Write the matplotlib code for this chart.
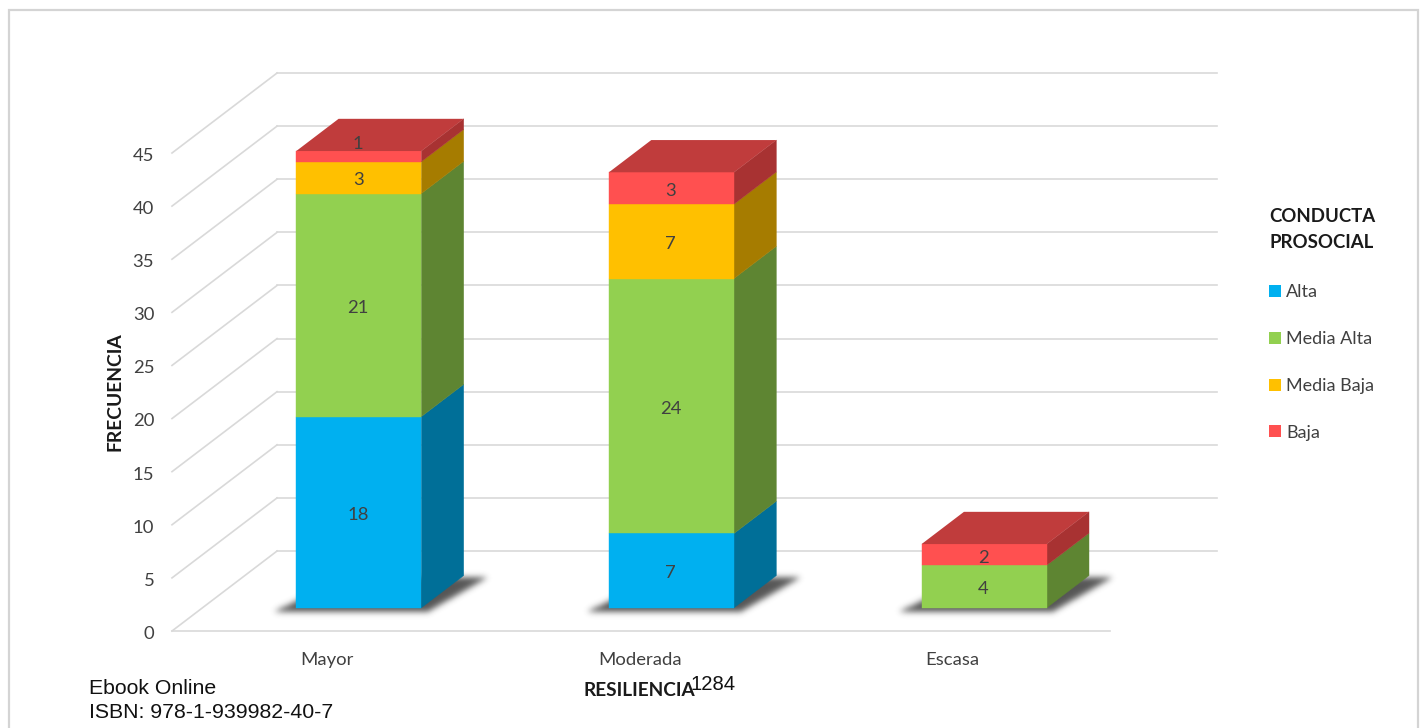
import matplotlib
matplotlib.use("Agg")
import matplotlib.pyplot as plt
import numpy as np
from matplotlib.patches import Patch, Polygon, Rectangle
from matplotlib.path import Path

categorias = ["Mayor", "Moderada", "Escasa"]
series = ["Alta", "Media Alta", "Media Baja", "Baja"]
alta = [18, 7, 0]
media_alta = [21, 24, 4]
media_baja = [3, 7, 0]
baja = [1, 3, 2]
ticks_y = [0, 5, 10, 15, 20, 25, 30, 35, 40, 45]

frente = ["#00B0F0", "#92D050", "#FFC000", "#FF5050"]
lado = ["#006F98", "#5E8532", "#A67C00", "#A83232"]
color_tapa = "#C03C3C"
color_rejilla = "#D9D9D9"
color_texto = "#404040"

# profundidad oblicua, en unidades de los ejes (categoria, frecuencia)
DX = 0.336
DY = 7.53
ANCHO = 0.40
Z_FRENTE = 0.29
Z_FONDO = 0.693
BAJA_TEXTO = 0.27  # Lato queda algo alta con va="center"

plt.rcParams["font.family"] = ["Lato", "DejaVu Sans"]

fig = plt.figure(figsize=(14.25, 7.28), dpi=100)
fig.patch.set_facecolor("white")
ax = fig.add_axes([172 / 1425, 97 / 728, 938 / 1425, 478 / 728])
ax.axis("off")


def proy(x, y, z):
    return (x + DX * z, y + DY * z)


def cara(puntos, **kw):
    ax.add_patch(Polygon([proy(*p) for p in puntos], closed=True, clip_on=False, **kw))


def sombra(puntos, sigma=3.0, opacidad=0.85):
    """Sombra difusa: rasteriza el poligono y lo suaviza con un nucleo gaussiano."""
    esquinas = np.array([proy(*p) for p in puntos])
    xa, xb = esquinas[:, 0].min() - 0.05, esquinas[:, 0].max() + 0.05
    ya, yb = esquinas[:, 1].min() - 1.5, esquinas[:, 1].max() + 1.5
    nx, ny = int((xb - xa) * 938 / 3), int((yb - ya) * 478 / 45)
    xx, yy = np.meshgrid(np.linspace(xa, xb, nx), np.linspace(ya, yb, ny))
    dentro = Path(esquinas).contains_points(np.c_[xx.ravel(), yy.ravel()]).reshape(ny, nx).astype(float)
    r = np.arange(-9, 10)
    nucleo = np.exp(-r ** 2 / (2 * sigma ** 2))
    nucleo /= nucleo.sum()
    dentro = np.apply_along_axis(np.convolve, 0, dentro, nucleo, mode="same")
    dentro = np.apply_along_axis(np.convolve, 1, dentro, nucleo, mode="same")
    rgba = np.zeros((ny, nx, 4))
    rgba[..., :3] = 0.22
    rgba[..., 3] = dentro * opacidad
    ax.imshow(rgba, extent=(xa, xb, ya, yb), origin="lower", aspect="auto", zorder=2,
              interpolation="bilinear", clip_on=False)


# marco exterior
fig.add_artist(Rectangle((8.5 / 1425, -0.01), 1409 / 1425, 1.01 - 10.5 / 728, transform=fig.transFigure,
                         fill=False, edgecolor="#D4D4D4", linewidth=1.6))

# rejilla: pared lateral y pared del fondo
for t in ticks_y:
    ax.plot([-0.5, -0.5 + DX], [t, t + DY], color=color_rejilla, lw=1.2, clip_on=False, zorder=1)
    ax.plot([-0.5 + DX, 2.5 + DX + 0.005], [t + DY, t + DY], color=color_rejilla, lw=1.2, clip_on=False, zorder=1)
    ax.text(-0.5 - 0.057, t - BAJA_TEXTO, str(t), ha="right", va="center", fontsize=13.3, color=color_texto)
ax.plot([-0.5, 2.5], [0, 0], color=color_rejilla, lw=1.2, clip_on=False, zorder=1)

valores = [alta, media_alta, media_baja, baja]
for i, cat in enumerate(categorias):
    x0 = i - ANCHO / 2
    x1 = x0 + ANCHO

    sombra([(x0 - 0.072, -0.42, Z_FRENTE), (x1 + 0.02, -0.42, Z_FRENTE),
            (x1 + 0.078, -0.15, Z_FONDO), (x0 + 0.02, -0.15, Z_FONDO)])

    base = 0
    for s in range(len(series)):
        v = valores[s][i]
        if v == 0:
            continue
        tope = base + v
        cara([(x1, base, Z_FRENTE), (x1, base, Z_FONDO), (x1, tope, Z_FONDO), (x1, tope, Z_FRENTE)],
             facecolor=lado[s], edgecolor=lado[s], linewidth=0.3, zorder=3)
        cara([(x0, base, Z_FRENTE), (x1, base, Z_FRENTE), (x1, tope, Z_FRENTE), (x0, tope, Z_FRENTE)],
             facecolor=frente[s], edgecolor=frente[s], linewidth=0.3, zorder=4)
        base = tope
    cara([(x0, base, Z_FRENTE), (x1, base, Z_FRENTE), (x1, base, Z_FONDO), (x0, base, Z_FONDO)],
         facecolor=color_tapa, edgecolor="none", zorder=4)

    # etiquetas de datos
    base = 0
    for s in range(len(series)):
        v = valores[s][i]
        if v == 0:
            continue
        y_et = base + v / 2 - BAJA_TEXTO
        if v == 1:
            y_et += 1.4  # la etiqueta del 1 queda sobre la tapa
        px, py = proy(i, y_et, Z_FRENTE)
        ax.text(px - 0.002, py, str(v), ha="center", va="center", fontsize=13.3, color=color_texto, zorder=6)
        base += v

    ax.text(i - 0.003, -2.55 - BAJA_TEXTO * 0.7, cat, ha="center", va="center", fontsize=13.3, color=color_texto)

# imshow toca los limites, se fijan al final
ax.set_xlim(-0.5, 2.5)
ax.set_ylim(0, 45)

fig.text(115 / 1425, 1 - 392 / 728, "FRECUENCIA", rotation=90, ha="center", va="center",
         fontsize=13.9, fontweight="bold", color="#1a1a1a")
fig.text(639 / 1425, 1 - 690 / 728, "RESILIENCIA", ha="center", va="center",
         fontsize=13.7, fontweight="bold", color="#1a1a1a")

handles = [Patch(facecolor=c, edgecolor="none", label=s) for c, s in zip(frente, series)]
leg = fig.legend(handles=handles, title="CONDUCTA\nPROSOCIAL", loc="upper left",
                 bbox_to_anchor=(1264 / 1425, 1 - 203 / 728), frameon=False, fontsize=13,
                 alignment="left", labelspacing=1.71, handlelength=0.64, handleheight=0.64,
                 handletextpad=0.3, borderpad=0.3, borderaxespad=0,
                 title_fontproperties={"family": "Lato", "weight": "bold", "size": 13.4})
leg.get_title().set_linespacing(1.6)
leg.get_title().set_multialignment("left")
leg.get_title().set_color("#1a1a1a")
leg._legend_box.sep = 24
for t in leg.get_texts():
    t.set_color(color_texto)

# pie de pagina del documento
pie = dict(family="Liberation Sans", color="#111111", va="center")
fig.text(89 / 1425, 1 - 689 / 728, "Ebook Online", ha="left", fontsize=15.3, **pie)
fig.text(89 / 1425, 1 - 712 / 728, "ISBN: 978-1-939982-40-7", ha="left", fontsize=15.3, **pie)
fig.text(691 / 1425, 1 - 685 / 728, "1284", ha="left", fontsize=14.6, **pie)

fig.savefig("out.png", dpi=100)
